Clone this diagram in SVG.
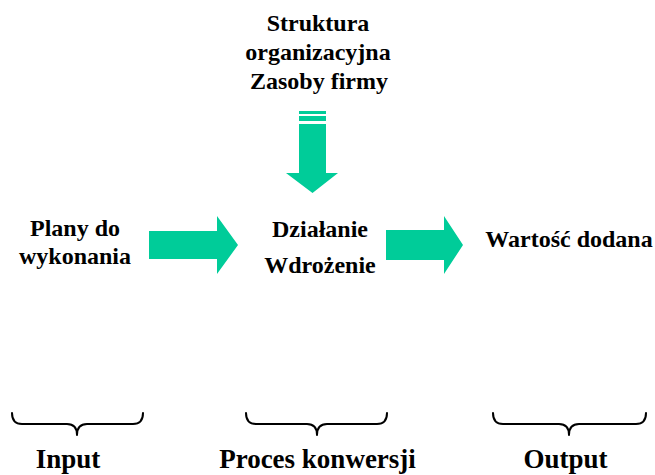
<svg xmlns="http://www.w3.org/2000/svg" width="655" height="475" viewBox="0 0 655 475">
<style>
text{font-family:"Liberation Serif","Times New Roman",serif;font-weight:bold;fill:#000;text-anchor:middle}
.t{font-size:24px}
.b{font-size:27px}
.arr{fill:#00CC99;stroke:none}
.brace{fill:none;stroke:#000;stroke-width:2;stroke-linecap:round;stroke-linejoin:round}
</style>
<rect width="655" height="475" fill="#fff"/>
<g id="connectors">
<g id="arrow-down">
<rect class="arr" x="299" y="111" width="27" height="3"/>
<rect class="arr" x="299" y="116" width="27" height="5"/>
<polygon class="arr" points="299,124 326,124 326,173 338,173 312.5,193 286,173 299,173"/>
</g>
<polygon id="arrow-in" class="arr" points="149,231 217,231 217,216 238,245 217,274 217,259 149,259"/>
<polygon id="arrow-out" class="arr" points="386,230 444,230 444,216 463,245 444,274 444,260 386,260"/>
</g>
<g id="resources">
<text class="t" x="318" y="31">Struktura</text>
<text class="t" x="318" y="60">organizacyjna</text>
<text class="t" x="319" y="89">Zasoby firmy</text>
</g>
<g id="input-node">
<text class="t" x="75" y="236">Plany do</text>
<text class="t" x="75" y="264">wykonania</text>
</g>
<g id="process-node">
<text class="t" x="320" y="237">Działanie</text>
<text class="t" x="320" y="273">Wdrożenie</text>
</g>
<g id="output-node">
<text class="t" x="569" y="247">Wartość dodana</text>
</g>
<g id="input-label">
<path class="brace" d="M12,413 Q12,424 22,424 L67,424 Q77,424 77,435 Q77,424 87,424 L133,424 Q143,424 143,413"/>
<text class="b" x="68" y="468">Input</text>
</g>
<g id="process-label">
<path class="brace" d="M246,413 Q246,424 256,424 L307,424 Q317,424 317,435 Q317,424 327,424 L377,424 Q387,424 387,413"/>
<text class="b" x="317.5" y="468">Proces konwersji</text>
</g>
<g id="output-label">
<path class="brace" d="M493,413 Q493,424 503,424 L559,424 Q569,424 569,435 Q569,424 579,424 L636,424 Q646,424 646,413"/>
<text class="b" x="565.5" y="468">Output</text>
</g>
</svg>
